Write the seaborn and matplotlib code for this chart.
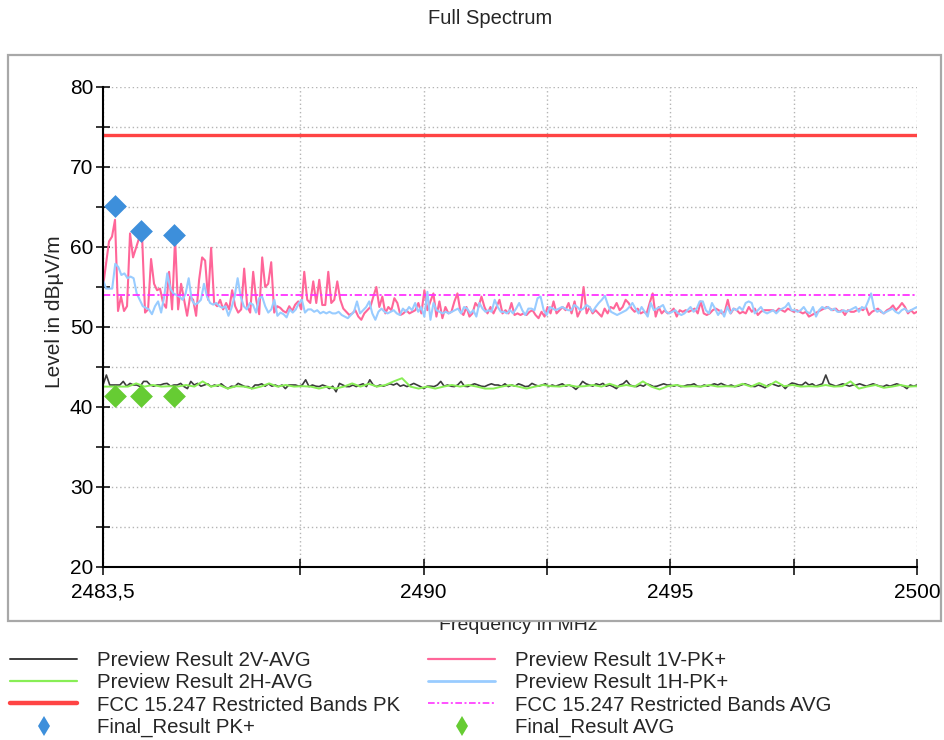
import numpy as np
import pandas as pd
import matplotlib
matplotlib.use("Agg")
import matplotlib.pyplot as plt
import seaborn as sns
from matplotlib.patches import Rectangle
from matplotlib.lines import Line2D

# ---------------- data ----------------
F_START, F_STOP = 2483.5, 2500.0

PK_1V = [
    55.0, 57.9, 60.7, 61.3, 63.4, 52.0, 53.8, 52.0, 52.6, 61.7, 58.7, 59.9, 61.1, 61.5, 51.8, 52.2,
    58.5, 55.4, 54.6, 54.8, 53.0, 52.4, 56.9, 52.2, 61.1, 52.2, 55.4, 53.4, 51.4, 53.8, 53.4, 51.4,
    55.9, 58.7, 58.3, 53.4, 59.9, 53.0, 52.6, 53.4, 52.2, 53.0, 52.2, 54.6, 52.6, 51.8, 52.2, 57.3,
    52.6, 51.8, 56.9, 53.4, 51.6, 58.7, 55.0, 55.4, 58.1, 51.8, 52.6, 52.4, 52.0, 51.8, 52.6, 52.0,
    52.8, 53.2, 52.2, 56.9, 53.4, 53.0,
    55.7, 53.0, 55.9, 52.75, 52.75, 56.9, 53.0, 53.4, 55.7, 53.4, 52.3, 51.9, 51.5, 51.7, 52.1, 51.3,
    50.9, 51.7, 52.1, 52.5, 53.8, 55.0, 52.5, 53.8, 51.7, 52.5, 52.1, 53.6, 53.0, 51.5, 51.7, 52.1,
    51.7, 51.9, 52.1, 53.0, 51.7, 54.6, 52.1, 53.2, 54.2, 51.3, 53.2, 51.1, 52.5, 51.7, 51.9, 53.2,
    54.2, 51.9, 51.5, 52.5, 51.3, 51.7, 53.0, 52.5, 53.8, 52.5, 51.7, 52.5, 51.7, 52.5, 53.4, 51.7,
    52.1, 51.7, 53.0, 51.5,
    51.7, 51.5, 51.7, 51.5, 51.9, 52.1, 51.5, 51.1, 51.9, 51.3, 52.5, 51.7, 53.2, 51.7, 52.1, 52.5,
    52.1, 53.0, 51.7, 53.2, 51.3, 52.1, 55.0, 51.7, 52.5, 51.7, 52.1, 51.7, 51.3, 52.3, 51.7, 52.5,
    52.3, 53.0, 52.1, 52.5, 53.4, 53.0, 52.3, 51.9, 52.3, 51.7, 51.9, 51.7, 53.0, 54.2, 51.3, 52.5,
    51.7, 52.1, 51.7, 51.9, 52.3, 51.3, 52.1, 51.9, 52.1, 51.9, 52.1, 52.3, 51.7, 53.2, 51.7, 51.5,
    51.7, 52.1, 52.3, 52.1, 51.7, 51.9,
    53.4, 51.7, 52.3, 52.1, 51.7, 51.9, 51.7, 52.5, 51.9, 52.3, 51.5, 51.9, 52.1, 52.1, 52.1, 52.1,
    51.9, 52.3, 52.1, 51.9, 52.3, 52.1, 51.9, 52.1, 51.9, 51.7, 51.9, 51.3, 51.5, 51.7, 51.9, 52.1,
    52.3, 52.5, 52.3, 52.1, 52.3, 51.9, 52.1, 51.5, 52.1, 51.9, 51.9, 52.1, 52.3, 52.1, 52.5, 51.5,
    51.9, 52.1, 52.3, 51.9, 51.7, 52.1, 52.3, 52.7, 52.1, 52.5, 53.0, 52.5, 51.7, 52.1, 51.7, 51.9,
]

PK_1H = [
    55.9, 54.8, 54.8, 54.8, 57.9, 57.5, 56.5, 56.7, 56.1, 56.3, 56.1, 54.2, 53.4, 52.6, 52.4, 52.2,
    51.6, 52.6, 53.2, 51.8, 53.8, 56.7, 54.8, 54.2, 54.0, 53.8, 53.4, 54.2, 56.1, 53.4, 52.8, 53.0,
    53.4, 55.4, 53.8, 53.0, 52.8, 53.0, 52.6, 52.4, 52.6, 51.4, 52.4, 53.8, 56.1, 53.8, 52.6, 52.2,
    53.0, 52.8, 51.8, 53.6, 53.8, 52.6, 51.8, 52.2, 53.4, 51.4, 51.8, 51.6, 51.2, 52.2, 51.8, 52.2,
    53.0, 53.4, 51.8, 52.2, 52.2,
    51.9, 52.1, 51.7, 51.9, 51.7, 51.9, 51.7, 51.7, 51.9, 51.5, 51.3, 51.1, 51.5, 51.9, 53.2, 51.7,
    52.1, 52.5, 53.2, 51.7, 50.9, 51.9, 52.3, 51.9, 51.7, 51.9, 52.1, 51.7, 51.5, 52.3, 51.9, 52.5,
    52.1, 53.0, 51.9, 52.5, 51.3, 54.4, 50.9, 53.0, 52.1, 51.9, 51.7, 51.9, 51.7, 51.9, 52.1, 52.3,
    51.7, 52.5, 52.3, 51.7, 52.1, 51.3, 53.0, 52.3, 51.9, 52.1, 51.9, 53.4, 52.5, 51.9, 51.9, 51.7,
    52.1, 51.7, 52.3, 53.0,
    52.1, 51.5, 52.3, 52.3, 52.1, 53.6, 53.8, 52.1, 51.5, 52.5, 52.3, 52.1, 52.3, 52.5, 52.3, 52.1,
    52.1, 52.75, 52.5, 52.1, 52.3, 52.75, 52.5, 51.9, 52.5, 53.0, 53.4, 53.9, 52.75, 51.9, 51.7, 51.5,
    51.7, 51.9, 52.1, 52.5, 53.0, 52.3, 51.7, 52.5, 51.9, 51.3, 53.0, 52.1, 52.3, 52.5, 52.75, 51.9,
    51.7, 51.9, 52.1, 51.7, 51.5, 51.7, 52.1, 52.5, 51.9, 52.3, 53.2, 53.2, 52.1, 51.7, 53.0, 52.3,
    51.5,
    52.1, 51.3, 52.5, 51.7, 52.3, 52.1, 52.5, 52.1, 53.0, 53.2, 53.0, 51.7, 52.1, 52.5, 51.9, 51.7,
    51.9, 52.1, 51.7, 52.1, 52.3, 52.5, 53.0, 52.1, 52.1, 51.9, 52.1, 52.5, 51.9, 51.7, 52.5, 51.3,
    52.1, 52.5, 52.3, 52.5, 52.1, 52.3, 51.9, 51.9, 52.1, 51.9, 52.1, 52.3, 52.5, 51.9, 52.5, 52.3,
    53.2, 54.2, 52.3, 51.9, 52.1, 51.7, 51.9, 52.1, 52.3, 51.9, 51.7, 52.1, 52.3, 51.9, 52.1, 52.3,
    52.5,
]

AVG_2V = [
    42.75, 44.0, 42.75, 42.75, 42.75, 42.75, 43.2, 42.6, 42.95, 42.75, 42.75, 42.55, 43.2, 43.2, 42.75, 42.6,
    42.75, 42.75, 42.9, 42.95, 42.6, 42.75, 42.75, 42.95, 42.55, 42.3, 43.2, 42.75, 42.95, 42.6, 42.75, 42.9,
    42.55, 42.75, 42.6, 42.9, 42.55, 42.3, 42.6, 42.55, 42.95, 42.75, 42.55, 42.55, 42.3, 42.75, 42.75, 42.9,
    42.6, 42.9, 42.6, 42.75, 42.55, 42.75, 42.3, 42.75, 42.75, 42.75, 42.6, 42.75, 43.4, 42.55, 42.75, 42.6,
    42.55, 42.75, 42.6, 42.3, 42.6, 41.9, 42.95, 42.75, 42.55, 42.55, 42.75, 42.55, 42.75, 42.9, 42.55, 43.4,
    42.75, 42.55, 42.75, 42.6, 42.75, 42.9, 42.75, 42.95, 42.6, 42.75, 42.55, 42.75, 42.95, 42.75, 42.55, 42.3,
    42.6, 42.6, 42.55, 42.75, 43.2, 42.6, 42.75, 42.6, 42.55, 42.75, 43.2, 42.6, 42.55, 42.75, 42.9, 42.75,
    42.6, 42.55, 42.75, 42.9, 42.75,
    42.75, 42.6, 42.9, 42.55, 42.75, 42.6, 42.9, 42.75, 42.55, 42.6, 42.95, 42.75, 42.6, 42.75, 42.9, 42.55,
    42.75, 42.6, 42.75, 42.9, 42.6, 42.75, 42.55, 42.2, 42.6, 43.2, 42.9, 42.75, 42.6, 42.9, 42.75, 42.95,
    42.6, 42.75, 42.55, 42.3, 42.75, 42.9, 43.3, 42.75, 42.6, 42.55, 42.75, 42.6, 42.9, 42.75, 42.55, 42.6,
    42.75, 42.9, 42.75, 42.75, 42.6, 42.75, 42.55, 42.6, 42.75, 42.75, 42.9, 42.6, 42.55, 42.75, 42.6, 42.75,
    42.9, 42.75, 42.95, 42.75, 42.6, 42.75, 42.55, 42.6, 42.75, 42.9, 42.75, 42.6, 42.55, 42.75, 42.6, 42.4,
    42.75, 42.9, 42.75, 42.6, 42.75, 42.3, 42.75, 43.0, 42.9, 42.75, 42.75, 43.1, 42.75, 42.9, 42.6, 42.75,
    42.9, 44.0, 42.9, 42.75, 42.6, 42.75, 42.9, 42.75, 42.6, 42.75, 42.75, 42.9, 42.75, 42.6, 42.75, 42.9,
    42.75, 42.6, 42.55, 42.75, 42.6, 42.75, 42.9, 42.75, 42.6, 42.3, 42.75, 42.6, 42.75,
]

AVG_2H = [
    42.55, 42.55, 42.55, 42.55, 42.95, 42.55, 42.75, 42.55, 42.6, 42.55, 42.75, 42.55, 43.2, 42.55, 42.75, 42.3,
    42.6, 42.55, 42.3, 42.55, 42.95, 42.55, 42.75, 42.55, 42.6, 42.55, 42.3, 42.55, 42.3, 42.55, 42.95, 42.55,
    42.9, 42.55, 42.75, 43.2, 43.6, 42.55, 42.3, 42.55, 42.3, 42.55, 42.75, 42.55, 42.75, 42.55, 42.3,
    42.3, 42.55, 42.75, 42.55, 42.3, 42.55, 42.75, 42.6, 42.55, 42.75, 42.55, 42.6, 42.75, 42.55, 42.9, 42.55,
    42.75, 42.55, 43.2, 42.55, 42.2, 42.6, 42.75, 42.55, 42.6, 42.55, 42.75, 42.55, 42.6, 42.55, 42.9, 42.55,
    43.0, 42.55, 43.2, 42.6, 42.75, 42.55, 42.6, 42.55, 42.75, 42.55, 42.6, 43.2, 42.3, 42.55, 42.75, 42.4,
    42.55, 42.75, 42.55, 42.6,
]

LIMIT_PK = 74.0
LIMIT_AVG = 54.0

FINAL_FREQ = [2483.74, 2484.27, 2484.94]
FINAL_PK = [65.1, 62.0, 61.5]
FINAL_AVG = [41.4, 41.4, 41.4]

X_TICKS = [2483.5, 2487.5, 2490, 2492.5, 2495, 2497.5, 2500]
X_TICK_LABELS = ["2483,5", "", "2490", "", "2495", "", "2500"]
Y_TICKS = [20, 25, 30, 35, 40, 45, 50, 55, 60, 65, 70, 75, 80]
Y_TICK_LABELS = ["20", "", "30", "", "40", "", "50", "", "60", "", "70", "", "80"]

# ---------------- colours ----------------
C_2V = "#3c3c3c"
C_2H = "#88ee55"
C_1V = "#ff6699"
C_1H = "#99ccff"
C_LPK = "#ff4444"
C_LAVG = "#ff33ff"
C_FPK = "#3d8fdb"
C_FAVG = "#66cc33"

sns.set_theme(style="white")
plt.rcParams['font.family'] = ['Liberation Sans', 'DejaVu Sans']

W, H = 944, 740
fig = plt.figure(figsize=(W / 100, H / 100), dpi=100)

# outer panel
panel = Rectangle((8 / W, 1 - 621 / H), (941 - 8) / W, (621 - 55) / H, transform=fig.transFigure,
                  facecolor="white", edgecolor="#a8a8a8", lw=1.6, zorder=-1)
fig.add_artist(panel)
fig.text(518 / W, 1 - 626 / H, "Frequency in MHz", ha="center", va="center", fontsize=14, zorder=-2)

ax = fig.add_axes([103 / W, 1 - 567 / H, (917 - 103) / W, (567 - 87) / H])
ax.set_facecolor("none")


def trace(vals):
    return pd.DataFrame({"f": np.linspace(F_START, F_STOP, len(vals)), "v": vals})


d2v, d2h, d1v, d1h = trace(AVG_2V), trace(AVG_2H), trace(PK_1V), trace(PK_1H)
sns.lineplot(data=d2v, x="f", y="v", ax=ax, color=C_2V, lw=1.2, estimator=None, sort=False, legend=False, zorder=2)
sns.lineplot(data=d2h, x="f", y="v", ax=ax, color=C_2H, lw=1.4, estimator=None, sort=False, legend=False, zorder=2)
sns.lineplot(data=d1v, x="f", y="v", ax=ax, color=C_1V, lw=1.5, estimator=None, sort=False, legend=False, zorder=2)
sns.lineplot(data=d1h, x="f", y="v", ax=ax, color=C_1H, lw=1.5, estimator=None, sort=False, legend=False, zorder=2)

lim = pd.DataFrame({"f": [F_START, F_STOP], "pk": [LIMIT_PK] * 2, "avg": [LIMIT_AVG] * 2})
sns.lineplot(data=lim, x="f", y="pk", ax=ax, color=C_LPK, lw=2.4, estimator=None, legend=False, zorder=3)
sns.lineplot(data=lim, x="f", y="avg", ax=ax, color=C_LAVG, lw=1.3, estimator=None, legend=False, zorder=3,
             linestyle=(0, (4, 1.5, 1.2, 1.5)))

fin = pd.DataFrame({"f": FINAL_FREQ, "pk": FINAL_PK, "avg": FINAL_AVG})
sns.scatterplot(data=fin, x="f", y="pk", ax=ax, marker="D", s=135, color=C_FPK, linewidth=0, zorder=5, legend=False, clip_on=False)
sns.scatterplot(data=fin, x="f", y="avg", ax=ax, marker="D", s=135, color=C_FAVG, linewidth=0, zorder=5, legend=False, clip_on=False)

ax.set_xlim(F_START, F_STOP)
ax.set_ylim(20, 80)
ax.set_xticks(X_TICKS)
ax.set_xticklabels(X_TICK_LABELS)
ax.set_yticks(Y_TICKS)
ax.set_yticklabels(Y_TICK_LABELS)
ax.set_xlabel("")
ax.set_ylabel("")
ax.grid(True, color="#b4b4b4", linestyle=(0, (1, 2)), lw=1.0)
ax.set_axisbelow(True)
for s in ["top", "right"]:
    ax.spines[s].set_visible(False)
for s in ["left", "bottom"]:
    ax.spines[s].set_color("black")
    ax.spines[s].set_linewidth(1.5)
    ax.spines[s].set_zorder(4)
ax.tick_params(axis="both", which="major", direction="inout", colors="black", width=1.1, labelsize=15,
               bottom=True, left=True)
ax.tick_params(axis="x", length=11, pad=6)
ax.tick_params(axis="y", length=10, pad=2)

fig.text(490 / W, 1 - 18 / H, "Full Spectrum", ha="center", va="center", fontsize=14.5)
fig.text(55 / W, 1 - 312 / H, "Level in dBµV/m", ha="center", va="center", rotation=90, fontsize=15)

# legend
h1 = [Line2D([], [], color=C_2V, lw=1.4),
      Line2D([], [], color=C_2H, lw=1.6),
      Line2D([], [], color=C_LPK, lw=3.2),
      Line2D([], [], color=C_FPK, marker="d", ms=10.5, ls="none", mew=0)]
l1 = ["Preview Result 2V-AVG", "Preview Result 2H-AVG", "FCC 15.247 Restricted Bands PK", "Final_Result PK+"]
h2 = [Line2D([], [], color=C_1V, lw=1.6),
      Line2D([], [], color=C_1H, lw=2.0),
      Line2D([], [], color=C_LAVG, lw=1.2, linestyle=(0, (4, 1.5, 1.2, 1.5))),
      Line2D([], [], color=C_FAVG, marker="d", ms=10.5, ls="none", mew=0)]
l2 = ["Preview Result 1V-PK+", "Preview Result 1H-PK+", "FCC 15.247 Restricted Bands AVG", "Final_Result AVG"]
common = dict(loc="upper left", frameon=False, borderpad=0, borderaxespad=0, handlelength=3.3,
              handletextpad=0.95, labelspacing=0.16, fontsize=14.7, numpoints=1)
fig.legend(h1, l1, bbox_to_anchor=(10 / W, 1 - 651 / H), **common)
fig.legend(h2, l2, bbox_to_anchor=(428 / W, 1 - 651 / H), **common)

fig.savefig("out.png", dpi=100)
